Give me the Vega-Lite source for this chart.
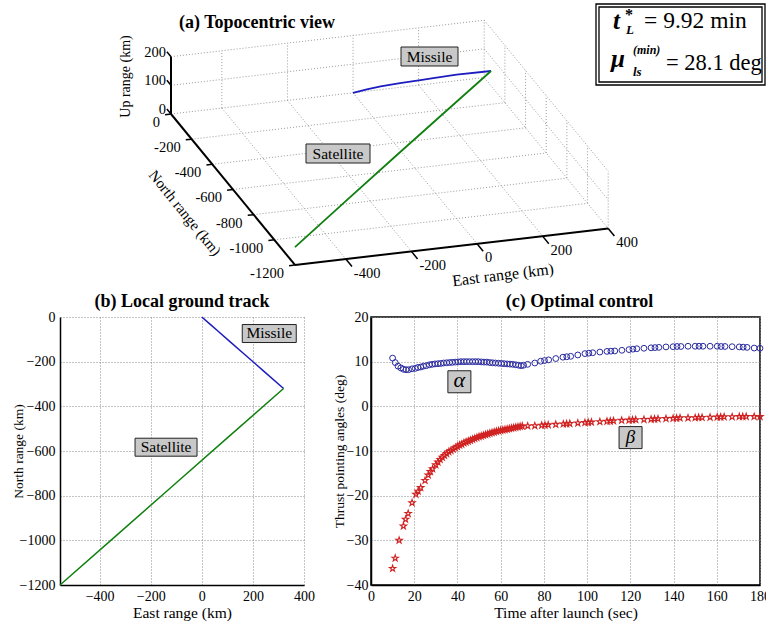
{
"$schema":"https://vega.github.io/schema/vega-lite/v6.json",
"background":"white",
"padding":{"left":11,"top":0,"right":-6,"bottom":0},
"bounds":"flush",
"spacing":27,
"config":{
 "font":"Liberation Serif",
 "view":{"stroke":null},
 "axis":{"labelFont":"Liberation Serif","titleFont":"Liberation Serif","labelFontSize":14,"titleFontSize":15.5,"titleFontWeight":"normal","labelColor":"black","titleColor":"black","domainColor":"black","domainWidth":1.5,"ticks":false,"gridColor":"#8a8a8a","gridDash":[1,2],"gridWidth":1,"gridOpacity":1,"labelPadding":4,"labelFlush":false,"format":"d"},
 "title":{"font":"Liberation Serif","fontSize":18,"fontWeight":"bold","color":"black"},
 "text":{"font":"Liberation Serif","color":"black"}
},
"datasets":{
 "traj":[
  {"obj":"Missile","i":0,"E":0,"N":0,"U":0},
  {"obj":"Missile","i":1,"E":32,"N":-32,"U":22},
  {"obj":"Missile","i":2,"E":64,"N":-64,"U":42},
  {"obj":"Missile","i":3,"E":109,"N":-109,"U":67},
  {"obj":"Missile","i":4,"E":160,"N":-160,"U":94},
  {"obj":"Missile","i":5,"E":186,"N":-186,"U":108},
  {"obj":"Missile","i":6,"E":240,"N":-240,"U":137},
  {"obj":"Missile","i":7,"E":320,"N":-320,"U":174},
  {"obj":"Satellite","i":0,"E":-555,"N":-1200,"U":62},
  {"obj":"Satellite","i":1,"E":-336,"N":-980,"U":92},
  {"obj":"Satellite","i":2,"E":-117.5,"N":-760,"U":120},
  {"obj":"Satellite","i":3,"E":101,"N":-540,"U":147},
  {"obj":"Satellite","i":4,"E":320,"N":-320,"U":174}
 ],
 "frame3d":[
  {"kind":"grid","E":-400,"N":0,"U":0,"E2":-400,"N2":-1200,"U2":0},
  {"kind":"grid","E":-200,"N":0,"U":0,"E2":-200,"N2":-1200,"U2":0},
  {"kind":"grid","E":0,"N":0,"U":0,"E2":0,"N2":-1200,"U2":0},
  {"kind":"grid","E":200,"N":0,"U":0,"E2":200,"N2":-1200,"U2":0},
  {"kind":"grid","E":400,"N":0,"U":0,"E2":400,"N2":-1200,"U2":0},
  {"kind":"grid","E":-555,"N":0,"U":0,"E2":400,"N2":0,"U2":0},
  {"kind":"grid","E":-555,"N":-200,"U":0,"E2":400,"N2":-200,"U2":0},
  {"kind":"grid","E":-555,"N":-400,"U":0,"E2":400,"N2":-400,"U2":0},
  {"kind":"grid","E":-555,"N":-600,"U":0,"E2":400,"N2":-600,"U2":0},
  {"kind":"grid","E":-555,"N":-800,"U":0,"E2":400,"N2":-800,"U2":0},
  {"kind":"grid","E":-555,"N":-1000,"U":0,"E2":400,"N2":-1000,"U2":0},
  {"kind":"grid","E":-400,"N":0,"U":0,"E2":-400,"N2":0,"U2":200},
  {"kind":"grid","E":-200,"N":0,"U":0,"E2":-200,"N2":0,"U2":200},
  {"kind":"grid","E":0,"N":0,"U":0,"E2":0,"N2":0,"U2":200},
  {"kind":"grid","E":200,"N":0,"U":0,"E2":200,"N2":0,"U2":200},
  {"kind":"grid","E":400,"N":0,"U":0,"E2":400,"N2":0,"U2":200},
  {"kind":"grid","E":-555,"N":0,"U":100,"E2":400,"N2":0,"U2":100},
  {"kind":"grid","E":-555,"N":0,"U":200,"E2":400,"N2":0,"U2":200},
  {"kind":"grid","E":400,"N":-200,"U":0,"E2":400,"N2":-200,"U2":200},
  {"kind":"grid","E":400,"N":-400,"U":0,"E2":400,"N2":-400,"U2":200},
  {"kind":"grid","E":400,"N":-600,"U":0,"E2":400,"N2":-600,"U2":200},
  {"kind":"grid","E":400,"N":-800,"U":0,"E2":400,"N2":-800,"U2":200},
  {"kind":"grid","E":400,"N":-1000,"U":0,"E2":400,"N2":-1000,"U2":200},
  {"kind":"grid","E":400,"N":-1200,"U":0,"E2":400,"N2":-1200,"U2":200},
  {"kind":"grid","E":400,"N":0,"U":100,"E2":400,"N2":-1200,"U2":100},
  {"kind":"grid","E":400,"N":0,"U":200,"E2":400,"N2":-1200,"U2":200},
  {"kind":"axis","E":-555,"N":0,"U":0,"E2":-555,"N2":0,"U2":200},
  {"kind":"axis","E":-555,"N":0,"U":0,"E2":-555,"N2":-1200,"U2":0},
  {"kind":"axis","E":-555,"N":-1200,"U":0,"E2":400,"N2":-1200,"U2":0},
  {"kind":"tick","E":-555,"N":0,"U":0,"E2":-573,"N2":0,"U2":0},
  {"kind":"tick","E":-555,"N":-200,"U":0,"E2":-573,"N2":-200,"U2":0},
  {"kind":"tick","E":-555,"N":-400,"U":0,"E2":-573,"N2":-400,"U2":0},
  {"kind":"tick","E":-555,"N":-600,"U":0,"E2":-573,"N2":-600,"U2":0},
  {"kind":"tick","E":-555,"N":-800,"U":0,"E2":-573,"N2":-800,"U2":0},
  {"kind":"tick","E":-555,"N":-1000,"U":0,"E2":-573,"N2":-1000,"U2":0},
  {"kind":"tick","E":-555,"N":-1200,"U":0,"E2":-573,"N2":-1200,"U2":0},
  {"kind":"tick","E":-400,"N":-1200,"U":0,"E2":-400,"N2":-1260,"U2":0},
  {"kind":"tick","E":-200,"N":-1200,"U":0,"E2":-200,"N2":-1260,"U2":0},
  {"kind":"tick","E":0,"N":-1200,"U":0,"E2":0,"N2":-1260,"U2":0},
  {"kind":"tick","E":200,"N":-1200,"U":0,"E2":200,"N2":-1260,"U2":0},
  {"kind":"tick","E":400,"N":-1200,"U":0,"E2":400,"N2":-1260,"U2":0},
  {"kind":"tick","E":-555,"N":0,"U":0,"E2":-555,"N2":40,"U2":0},
  {"kind":"tick","E":-555,"N":0,"U":100,"E2":-555,"N2":40,"U2":100},
  {"kind":"tick","E":-555,"N":0,"U":200,"E2":-555,"N2":40,"U2":200}
 ],
 "labels3d":[
  {"axis":"N","label":"0","E":-555,"N":0,"U":0},
  {"axis":"N","label":"-200","E":-555,"N":-200,"U":0},
  {"axis":"N","label":"-400","E":-555,"N":-400,"U":0},
  {"axis":"N","label":"-600","E":-555,"N":-600,"U":0},
  {"axis":"N","label":"-800","E":-555,"N":-800,"U":0},
  {"axis":"N","label":"-1000","E":-555,"N":-1000,"U":0},
  {"axis":"N","label":"-1200","E":-555,"N":-1200,"U":0},
  {"axis":"E","label":"-400","E":-400,"N":-1200,"U":0},
  {"axis":"E","label":"-200","E":-200,"N":-1200,"U":0},
  {"axis":"E","label":"0","E":0,"N":-1200,"U":0},
  {"axis":"E","label":"200","E":200,"N":-1200,"U":0},
  {"axis":"E","label":"400","E":400,"N":-1200,"U":0},
  {"axis":"U","label":"0","E":-555,"N":0,"U":0},
  {"axis":"U","label":"100","E":-555,"N":0,"U":100},
  {"axis":"U","label":"200","E":-555,"N":0,"U":200}
 ],
 "alpha":[
  {"t":10,"v":10.8},{"t":11.2,"v":9.8},{"t":12.5,"v":9.0},{"t":13.8,"v":8.6},{"t":15,"v":8.3},{"t":16.2,"v":8.2},{"t":17.4,"v":8.2},{"t":19,"v":8.4},{"t":20.5,"v":8.5},{"t":21.7,"v":8.7},{"t":23,"v":8.8},{"t":24.3,"v":9.0},{"t":25.6,"v":9.1},{"t":27,"v":9.3},{"t":28.3,"v":9.4},{"t":29.6,"v":9.5},{"t":31,"v":9.55},{"t":32.3,"v":9.6},{"t":33.6,"v":9.7},{"t":35,"v":9.75},{"t":36.3,"v":9.8},{"t":37.6,"v":9.85},{"t":39,"v":9.9},{"t":40.3,"v":9.95},{"t":41.6,"v":10.0},{"t":43,"v":10.0},{"t":44.3,"v":10.0},{"t":45.6,"v":10.0},{"t":47,"v":10.0},{"t":48.3,"v":10.0},{"t":49.6,"v":10.0},{"t":51,"v":9.95},{"t":52.3,"v":9.9},{"t":53.6,"v":9.9},{"t":55,"v":9.8},{"t":56.3,"v":9.75},{"t":57.6,"v":9.7},{"t":59,"v":9.65},{"t":60.3,"v":9.6},{"t":61.6,"v":9.55},{"t":63,"v":9.5},{"t":64.3,"v":9.45},{"t":65.6,"v":9.4},{"t":67,"v":9.3},{"t":68.3,"v":9.2},{"t":69.5,"v":9.1},{"t":70.6,"v":9.2},{"t":72.5,"v":9.4},{"t":75.8,"v":9.7},{"t":78.5,"v":10.1},{"t":80.3,"v":10.25},{"t":82.2,"v":10.4},{"t":85.5,"v":10.7},{"t":88.8,"v":11.0},{"t":90.6,"v":11.1},{"t":92.4,"v":11.2},{"t":95.7,"v":11.5},{"t":99,"v":11.8},{"t":100.8,"v":11.9},{"t":102.6,"v":12.0},{"t":105.9,"v":12.15},{"t":109.2,"v":12.3},{"t":111,"v":12.35},{"t":112.8,"v":12.4},{"t":116.1,"v":12.55},{"t":119.4,"v":12.7},{"t":121.2,"v":12.8},{"t":123,"v":12.9},{"t":126.3,"v":13.0},{"t":129.6,"v":13.1},{"t":131.4,"v":13.15},{"t":133.2,"v":13.2},{"t":136.5,"v":13.3},{"t":139.8,"v":13.35},{"t":141.6,"v":13.4},{"t":143.4,"v":13.4},{"t":146.7,"v":13.45},{"t":150,"v":13.45},{"t":151.8,"v":13.45},{"t":153.6,"v":13.45},{"t":156.9,"v":13.45},{"t":160.2,"v":13.45},{"t":162,"v":13.4},{"t":163.8,"v":13.4},{"t":167.1,"v":13.35},{"t":170.4,"v":13.3},{"t":172.2,"v":13.25},{"t":174,"v":13.2},{"t":177.3,"v":13.05},{"t":180,"v":13.0}
 ],
 "beta":[
  {"t":10,"v":-36.3},{"t":11.2,"v":-34.0},{"t":13,"v":-30.0},{"t":15,"v":-26.8},{"t":16,"v":-25.3},{"t":17.2,"v":-24.0},{"t":19,"v":-21.6},{"t":20.8,"v":-19.7},{"t":21.8,"v":-19.0},{"t":23,"v":-18.2},{"t":25,"v":-16.6},{"t":26.5,"v":-15.4},{"t":27.5,"v":-14.6},{"t":28.5,"v":-14.0},{"t":30,"v":-13.1},{"t":31,"v":-12.5},{"t":32,"v":-11.9},{"t":33,"v":-11.4},{"t":34,"v":-11.0},{"t":35,"v":-10.6},{"t":36,"v":-10.2},{"t":37,"v":-9.9},{"t":38,"v":-9.6},{"t":39,"v":-9.3},{"t":40,"v":-9.0},{"t":41,"v":-8.7},{"t":42,"v":-8.5},{"t":43,"v":-8.2},{"t":44,"v":-8.0},{"t":45,"v":-7.8},{"t":46,"v":-7.6},{"t":47,"v":-7.4},{"t":48,"v":-7.2},{"t":49,"v":-7.0},{"t":50,"v":-6.8},{"t":51,"v":-6.65},{"t":52,"v":-6.5},{"t":53,"v":-6.35},{"t":54,"v":-6.2},{"t":55,"v":-6.05},{"t":56,"v":-5.9},{"t":57,"v":-5.75},{"t":58,"v":-5.6},{"t":59,"v":-5.5},{"t":60,"v":-5.4},{"t":61,"v":-5.3},{"t":62,"v":-5.2},{"t":63,"v":-5.1},{"t":64,"v":-5.0},{"t":65,"v":-4.9},{"t":66,"v":-4.8},{"t":67,"v":-4.7},{"t":68,"v":-4.6},{"t":69,"v":-4.5},{"t":70,"v":-4.45},{"t":72.5,"v":-4.4},{"t":75.8,"v":-4.35},{"t":79,"v":-4.25},{"t":80.5,"v":-4.2},{"t":82,"v":-4.15},{"t":85.5,"v":-4.05},{"t":89,"v":-3.95},{"t":90.5,"v":-3.9},{"t":92,"v":-3.85},{"t":95.7,"v":-3.75},{"t":99,"v":-3.65},{"t":100.5,"v":-3.6},{"t":102,"v":-3.55},{"t":105.9,"v":-3.45},{"t":109.2,"v":-3.35},{"t":110.7,"v":-3.3},{"t":112.2,"v":-3.25},{"t":116,"v":-3.15},{"t":119.4,"v":-3.1},{"t":121,"v":-3.05},{"t":122.5,"v":-3.0},{"t":126.3,"v":-2.95},{"t":129.6,"v":-2.9},{"t":131.2,"v":-2.85},{"t":132.8,"v":-2.8},{"t":136.5,"v":-2.75},{"t":139.8,"v":-2.7},{"t":141.4,"v":-2.65},{"t":143,"v":-2.6},{"t":146.7,"v":-2.6},{"t":150,"v":-2.55},{"t":151.6,"v":-2.5},{"t":153.2,"v":-2.5},{"t":156.9,"v":-2.45},{"t":160.2,"v":-2.4},{"t":161.8,"v":-2.4},{"t":163.4,"v":-2.35},{"t":167.1,"v":-2.35},{"t":170.4,"v":-2.3},{"t":172,"v":-2.3},{"t":173.6,"v":-2.3},{"t":177.3,"v":-2.3},{"t":180,"v":-2.3}
 ]
},
"vconcat":[
 {
  "width":706,"height":290,
  "title":{"text":"(a) Topocentric view","anchor":"start","dx":119,"offset":-32,"frame":"group"},
  "layer":[
   {"data":{"name":"frame3d"},
    "transform":[{"filter":"datum.kind==='grid'"},
     {"calculate":"171+0.328*(datum.E+555)-0.1033*datum.N","as":"px"},
     {"calculate":"114-0.0382*(datum.E+555)-0.1258*datum.N-0.2865*datum.U","as":"py"},
     {"calculate":"171+0.328*(datum.E2+555)-0.1033*datum.N2","as":"px2"},
     {"calculate":"114-0.0382*(datum.E2+555)-0.1258*datum.N2-0.2865*datum.U2","as":"py2"}],
    "mark":{"type":"rule","color":"#9a9a9a","strokeDash":[1,2],"strokeWidth":1},
    "encoding":{"x":{"field":"px","type":"quantitative","scale":{"domain":[60,766],"nice":false,"zero":false},"axis":null},
     "y":{"field":"py","type":"quantitative","scale":{"domain":[0,290],"nice":false,"zero":false,"reverse":true},"axis":null},
     "x2":{"field":"px2"},"y2":{"field":"py2"}}},
   {"data":{"name":"frame3d"},
    "transform":[{"filter":"datum.kind==='axis'"},
     {"calculate":"171+0.328*(datum.E+555)-0.1033*datum.N","as":"px"},
     {"calculate":"114-0.0382*(datum.E+555)-0.1258*datum.N-0.2865*datum.U","as":"py"},
     {"calculate":"171+0.328*(datum.E2+555)-0.1033*datum.N2","as":"px2"},
     {"calculate":"114-0.0382*(datum.E2+555)-0.1258*datum.N2-0.2865*datum.U2","as":"py2"}],
    "mark":{"type":"rule","color":"black","strokeWidth":2},
    "encoding":{"x":{"field":"px","type":"quantitative","scale":{"domain":[60,766],"nice":false,"zero":false},"axis":null},
     "y":{"field":"py","type":"quantitative","scale":{"domain":[0,290],"nice":false,"zero":false,"reverse":true},"axis":null},
     "x2":{"field":"px2"},"y2":{"field":"py2"}}},
   {"data":{"name":"frame3d"},
    "transform":[{"filter":"datum.kind==='tick'"},
     {"calculate":"171+0.328*(datum.E+555)-0.1033*datum.N","as":"px"},
     {"calculate":"114-0.0382*(datum.E+555)-0.1258*datum.N-0.2865*datum.U","as":"py"},
     {"calculate":"171+0.328*(datum.E2+555)-0.1033*datum.N2","as":"px2"},
     {"calculate":"114-0.0382*(datum.E2+555)-0.1258*datum.N2-0.2865*datum.U2","as":"py2"}],
    "mark":{"type":"rule","color":"black","strokeWidth":1.5},
    "encoding":{"x":{"field":"px","type":"quantitative","scale":{"domain":[60,766],"nice":false,"zero":false},"axis":null},
     "y":{"field":"py","type":"quantitative","scale":{"domain":[0,290],"nice":false,"zero":false,"reverse":true},"axis":null},
     "x2":{"field":"px2"},"y2":{"field":"py2"}}},
   {"data":{"name":"traj"},
    "transform":[
     {"calculate":"171+0.328*(datum.E+555)-0.1033*datum.N","as":"px"},
     {"calculate":"114-0.0382*(datum.E+555)-0.1258*datum.N-0.2865*datum.U","as":"py"}],
    "mark":{"type":"line","strokeWidth":1.8},
    "encoding":{"x":{"field":"px","type":"quantitative","scale":{"domain":[60,766],"nice":false,"zero":false},"axis":null},
     "y":{"field":"py","type":"quantitative","scale":{"domain":[0,290],"nice":false,"zero":false,"reverse":true},"axis":null},
     "color":{"field":"obj","type":"nominal","scale":{"domain":["Missile","Satellite"],"range":["#1c1cc0","#108010"]},"legend":null},
     "order":{"field":"i"}}},
   {"data":{"name":"labels3d"},
    "transform":[{"filter":"datum.axis==='N'"},
     {"calculate":"171+0.328*(datum.E+555)-0.1033*datum.N","as":"px"},
     {"calculate":"114-0.0382*(datum.E+555)-0.1258*datum.N-0.2865*datum.U","as":"py"}],
    "mark":{"type":"text","align":"right","baseline":"middle","dx":-11,"dy":9,"fontSize":14.5},
    "encoding":{"x":{"field":"px","type":"quantitative","scale":{"domain":[60,766],"nice":false,"zero":false},"axis":null},
     "y":{"field":"py","type":"quantitative","scale":{"domain":[0,290],"nice":false,"zero":false,"reverse":true},"axis":null},
     "text":{"field":"label"}}},
   {"data":{"name":"labels3d"},
    "transform":[{"filter":"datum.axis==='E'"},
     {"calculate":"171+0.328*(datum.E+555)-0.1033*datum.N","as":"px"},
     {"calculate":"114-0.0382*(datum.E+555)-0.1258*datum.N-0.2865*datum.U","as":"py"}],
    "mark":{"type":"text","align":"left","baseline":"middle","dx":8,"dy":14.5,"fontSize":14.5},
    "encoding":{"x":{"field":"px","type":"quantitative","scale":{"domain":[60,766],"nice":false,"zero":false},"axis":null},
     "y":{"field":"py","type":"quantitative","scale":{"domain":[0,290],"nice":false,"zero":false,"reverse":true},"axis":null},
     "text":{"field":"label"}}},
   {"data":{"name":"labels3d"},
    "transform":[{"filter":"datum.axis==='U'"},
     {"calculate":"171+0.328*(datum.E+555)-0.1033*datum.N","as":"px"},
     {"calculate":"114-0.0382*(datum.E+555)-0.1258*datum.N-0.2865*datum.U","as":"py"}],
    "mark":{"type":"text","align":"right","baseline":"middle","dx":-5,"dy":-4,"fontSize":14.5},
    "encoding":{"x":{"field":"px","type":"quantitative","scale":{"domain":[60,766],"nice":false,"zero":false},"axis":null},
     "y":{"field":"py","type":"quantitative","scale":{"domain":[0,290],"nice":false,"zero":false,"reverse":true},"axis":null},
     "text":{"field":"label"}}},
   {"data":{"values":[{}]},
    "mark":{"type":"text","text":"Up range (km)","angle":270,"align":"center","baseline":"middle","fontSize":14},
    "encoding":{"x":{"datum":125.5,"type":"quantitative","scale":{"domain":[60,766],"nice":false,"zero":false},"axis":null},
     "y":{"datum":76.5,"type":"quantitative","scale":{"domain":[0,290],"nice":false,"zero":false,"reverse":true},"axis":null}}},
   {"data":{"values":[{}]},
    "mark":{"type":"text","text":"North range (km)","angle":51,"align":"center","baseline":"middle","fontSize":15},
    "encoding":{"x":{"datum":185,"type":"quantitative","scale":{"domain":[60,766],"nice":false,"zero":false},"axis":null},
     "y":{"datum":213,"type":"quantitative","scale":{"domain":[0,290],"nice":false,"zero":false,"reverse":true},"axis":null}}},
   {"data":{"values":[{}]},
    "mark":{"type":"text","text":"East range (km)","angle":353,"align":"center","baseline":"middle","fontSize":16},
    "encoding":{"x":{"datum":503,"type":"quantitative","scale":{"domain":[60,766],"nice":false,"zero":false},"axis":null},
     "y":{"datum":275,"type":"quantitative","scale":{"domain":[0,290],"nice":false,"zero":false,"reverse":true},"axis":null}}},
   {"data":{"values":[{}]},
    "mark":{"type":"point","shape":"M-1,-0.333H1V0.333H-1Z","size":3249,"filled":true,"fill":"#c8c8c8","stroke":"#222222","strokeWidth":1,"opacity":1},
    "encoding":{"x":{"datum":429.5,"type":"quantitative","scale":{"domain":[60,766],"nice":false,"zero":false},"axis":null},
     "y":{"datum":56.5,"type":"quantitative","scale":{"domain":[0,290],"nice":false,"zero":false,"reverse":true},"axis":null}}},
   {"data":{"values":[{}]},
    "mark":{"type":"text","text":"Missile","align":"center","baseline":"middle","fontSize":15.5},
    "encoding":{"x":{"datum":429.5,"type":"quantitative","scale":{"domain":[60,766],"nice":false,"zero":false},"axis":null},
     "y":{"datum":57,"type":"quantitative","scale":{"domain":[0,290],"nice":false,"zero":false,"reverse":true},"axis":null}}},
   {"data":{"values":[{}]},
    "mark":{"type":"point","shape":"M-1,-0.297H1V0.297H-1Z","size":4096,"filled":true,"fill":"#c8c8c8","stroke":"#222222","strokeWidth":1,"opacity":1},
    "encoding":{"x":{"datum":338,"type":"quantitative","scale":{"domain":[60,766],"nice":false,"zero":false},"axis":null},
     "y":{"datum":153.5,"type":"quantitative","scale":{"domain":[0,290],"nice":false,"zero":false,"reverse":true},"axis":null}}},
   {"data":{"values":[{}]},
    "mark":{"type":"text","text":"Satellite","align":"center","baseline":"middle","fontSize":15.5},
    "encoding":{"x":{"datum":338,"type":"quantitative","scale":{"domain":[60,766],"nice":false,"zero":false},"axis":null},
     "y":{"datum":154,"type":"quantitative","scale":{"domain":[0,290],"nice":false,"zero":false,"reverse":true},"axis":null}}},
   {"data":{"values":[{}]},
    "mark":{"type":"rect","filled":false,"color":"black","strokeWidth":1.3},
    "encoding":{"x":{"datum":596,"type":"quantitative","scale":{"domain":[60,766],"nice":false,"zero":false},"axis":null},
     "x2":{"datum":765},
     "y":{"datum":4,"type":"quantitative","scale":{"domain":[0,290],"nice":false,"zero":false,"reverse":true},"axis":null},
     "y2":{"datum":85}}},
   {"data":{"values":[{}]},
    "mark":{"type":"rect","filled":false,"color":"black","strokeWidth":1.3},
    "encoding":{"x":{"datum":599,"type":"quantitative","scale":{"domain":[60,766],"nice":false,"zero":false},"axis":null},
     "x2":{"datum":762},
     "y":{"datum":7,"type":"quantitative","scale":{"domain":[0,290],"nice":false,"zero":false,"reverse":true},"axis":null},
     "y2":{"datum":82}}},
   {"data":{"values":[{}]},
    "mark":{"type":"text","text":"t","align":"left","baseline":"alphabetic","fontSize":25,"fontStyle":"italic","fontWeight":"bold"},
    "encoding":{"x":{"datum":613,"type":"quantitative","scale":{"domain":[60,766],"nice":false,"zero":false},"axis":null},
     "y":{"datum":29,"type":"quantitative","scale":{"domain":[0,290],"nice":false,"zero":false,"reverse":true},"axis":null}}},
   {"data":{"values":[{}]},
    "mark":{"type":"text","text":"*","align":"left","baseline":"alphabetic","fontSize":16,"fontWeight":"bold"},
    "encoding":{"x":{"datum":625,"type":"quantitative","scale":{"domain":[60,766],"nice":false,"zero":false},"axis":null},
     "y":{"datum":20,"type":"quantitative","scale":{"domain":[0,290],"nice":false,"zero":false,"reverse":true},"axis":null}}},
   {"data":{"values":[{}]},
    "mark":{"type":"text","text":"L","align":"left","baseline":"alphabetic","fontSize":13,"fontStyle":"italic","fontWeight":"bold"},
    "encoding":{"x":{"datum":626,"type":"quantitative","scale":{"domain":[60,766],"nice":false,"zero":false},"axis":null},
     "y":{"datum":34,"type":"quantitative","scale":{"domain":[0,290],"nice":false,"zero":false,"reverse":true},"axis":null}}},
   {"data":{"values":[{}]},
    "mark":{"type":"text","text":"= 9.92 min","align":"left","baseline":"alphabetic","fontSize":23.5},
    "encoding":{"x":{"datum":644,"type":"quantitative","scale":{"domain":[60,766],"nice":false,"zero":false},"axis":null},
     "y":{"datum":28,"type":"quantitative","scale":{"domain":[0,290],"nice":false,"zero":false,"reverse":true},"axis":null}}},
   {"data":{"values":[{}]},
    "mark":{"type":"text","text":"μ","align":"left","baseline":"alphabetic","fontSize":25,"fontStyle":"italic","fontWeight":"bold"},
    "encoding":{"x":{"datum":611,"type":"quantitative","scale":{"domain":[60,766],"nice":false,"zero":false},"axis":null},
     "y":{"datum":67,"type":"quantitative","scale":{"domain":[0,290],"nice":false,"zero":false,"reverse":true},"axis":null}}},
   {"data":{"values":[{}]},
    "mark":{"type":"text","text":"(min)","align":"left","baseline":"alphabetic","fontSize":12,"fontStyle":"italic","fontWeight":"bold"},
    "encoding":{"x":{"datum":633,"type":"quantitative","scale":{"domain":[60,766],"nice":false,"zero":false},"axis":null},
     "y":{"datum":54,"type":"quantitative","scale":{"domain":[0,290],"nice":false,"zero":false,"reverse":true},"axis":null}}},
   {"data":{"values":[{}]},
    "mark":{"type":"text","text":"ls","align":"left","baseline":"alphabetic","fontSize":13,"fontStyle":"italic","fontWeight":"bold"},
    "encoding":{"x":{"datum":633,"type":"quantitative","scale":{"domain":[60,766],"nice":false,"zero":false},"axis":null},
     "y":{"datum":76,"type":"quantitative","scale":{"domain":[0,290],"nice":false,"zero":false,"reverse":true},"axis":null}}},
   {"data":{"values":[{}]},
    "mark":{"type":"text","text":"= 28.1 deg","align":"left","baseline":"alphabetic","fontSize":22.5},
    "encoding":{"x":{"datum":666,"type":"quantitative","scale":{"domain":[60,766],"nice":false,"zero":false},"axis":null},
     "y":{"datum":70,"type":"quantitative","scale":{"domain":[0,290],"nice":false,"zero":false,"reverse":true},"axis":null}}}
  ]
 },
 {
  "hconcat":[
   {
    "width":244,"height":268,
    "title":{"text":"(b) Local ground track","offset":-1},
    "layer":[
     {"data":{"name":"traj"},
      "mark":{"type":"line","strokeWidth":1.5},
      "encoding":{
       "x":{"field":"E","type":"quantitative","scale":{"domain":[-555,400],"nice":false,"zero":false},"axis":{"values":[-400,-200,0,200,400],"title":"East range (km)","grid":true,"titlePadding":2}},
       "y":{"field":"N","type":"quantitative","scale":{"domain":[-1200,0],"nice":false,"zero":false},"axis":{"values":[-1200,-1000,-800,-600,-400,-200,0],"title":"North range (km)","grid":true,"labelPadding":5,"titleX":-42,"titleBaseline":"middle","titleFontSize":13.5}},
       "color":{"field":"obj","type":"nominal","scale":{"domain":["Missile","Satellite"],"range":["#1c1cc0","#108010"]},"legend":null},
       "order":{"field":"i"}}},
     {"data":{"values":[{}]},
      "mark":{"type":"point","shape":"M-1,-0.333H1V0.333H-1Z","size":2916,"filled":true,"fill":"#c8c8c8","stroke":"#222222","strokeWidth":1,"opacity":1},
      "encoding":{"x":{"datum":264,"type":"quantitative"},"y":{"datum":-74,"type":"quantitative"}}},
     {"data":{"values":[{}]},
      "mark":{"type":"text","text":"Missile","align":"center","baseline":"middle","fontSize":15.5},
      "encoding":{"x":{"datum":264,"type":"quantitative"},"y":{"datum":-72,"type":"quantitative"}}},
     {"data":{"values":[{}]},
      "mark":{"type":"point","shape":"M-1,-0.29H1V0.29H-1Z","size":3844,"filled":true,"fill":"#c8c8c8","stroke":"#222222","strokeWidth":1,"opacity":1},
      "encoding":{"x":{"datum":-140,"type":"quantitative"},"y":{"datum":-583,"type":"quantitative"}}},
     {"data":{"values":[{}]},
      "mark":{"type":"text","text":"Satellite","align":"center","baseline":"middle","fontSize":15.5},
      "encoding":{"x":{"datum":-140,"type":"quantitative"},"y":{"datum":-581,"type":"quantitative"}}}
    ]
   },
   {
    "width":389,"height":268,
    "view":{"stroke":"black","strokeWidth":1.5},
    "title":{"text":"(c) Optimal control","offset":-1,"dx":14},
    "layer":[
     {"data":{"name":"alpha"},
      "mark":{"type":"point","shape":"circle","size":34,"color":"#2a2aa0","strokeWidth":1,"filled":false,"opacity":1},
      "encoding":{
       "x":{"field":"t","type":"quantitative","scale":{"domain":[0,180],"nice":false,"zero":false},"axis":{"values":[0,20,40,60,80,100,120,140,160,180],"title":"Time after launch (sec)","grid":true,"titlePadding":2}},
       "y":{"field":"v","type":"quantitative","scale":{"domain":[-40,20],"nice":false,"zero":false},"axis":{"values":[-40,-30,-20,-10,0,10,20],"title":"Thrust pointing angles (deg)","grid":true,"labelPadding":3,"titleX":-32,"titleBaseline":"middle","titleFontSize":13.5}}}},
     {"data":{"name":"beta"},
      "mark":{"type":"point","shape":"M0,-1L0.2245,-0.309L0.951,-0.309L0.363,0.118L0.588,0.809L0,0.382L-0.588,0.809L-0.363,0.118L-0.951,-0.309L-0.2245,-0.309Z","size":44,"color":"#d02020","strokeWidth":1.1,"filled":false,"opacity":1},
      "encoding":{"x":{"field":"t","type":"quantitative"},"y":{"field":"v","type":"quantitative"}}},
     {"data":{"values":[{}]},
      "mark":{"type":"point","shape":"M-1,-0.957H1V0.957H-1Z","size":529,"filled":true,"fill":"#c8c8c8","stroke":"#222222","strokeWidth":1,"opacity":1},
      "encoding":{"x":{"datum":40.9,"type":"quantitative"},"y":{"datum":5.5,"type":"quantitative"}}},
     {"data":{"values":[{}]},
      "mark":{"type":"text","text":"α","align":"center","baseline":"middle","fontSize":22,"fontStyle":"italic"},
      "encoding":{"x":{"datum":40.9,"type":"quantitative"},"y":{"datum":5.8,"type":"quantitative"}}},
     {"data":{"values":[{}]},
      "mark":{"type":"point","shape":"M-1,-0.957H1V0.957H-1Z","size":529,"filled":true,"fill":"#c8c8c8","stroke":"#222222","strokeWidth":1,"opacity":1},
      "encoding":{"x":{"datum":120.1,"type":"quantitative"},"y":{"datum":-7.0,"type":"quantitative"}}},
     {"data":{"values":[{}]},
      "mark":{"type":"text","text":"β","align":"center","baseline":"middle","fontSize":19,"fontStyle":"italic"},
      "encoding":{"x":{"datum":120.1,"type":"quantitative"},"y":{"datum":-6.8,"type":"quantitative"}}}
    ]
   }
  ],
  "spacing":67,
  "bounds":"flush"
 }
]
}
